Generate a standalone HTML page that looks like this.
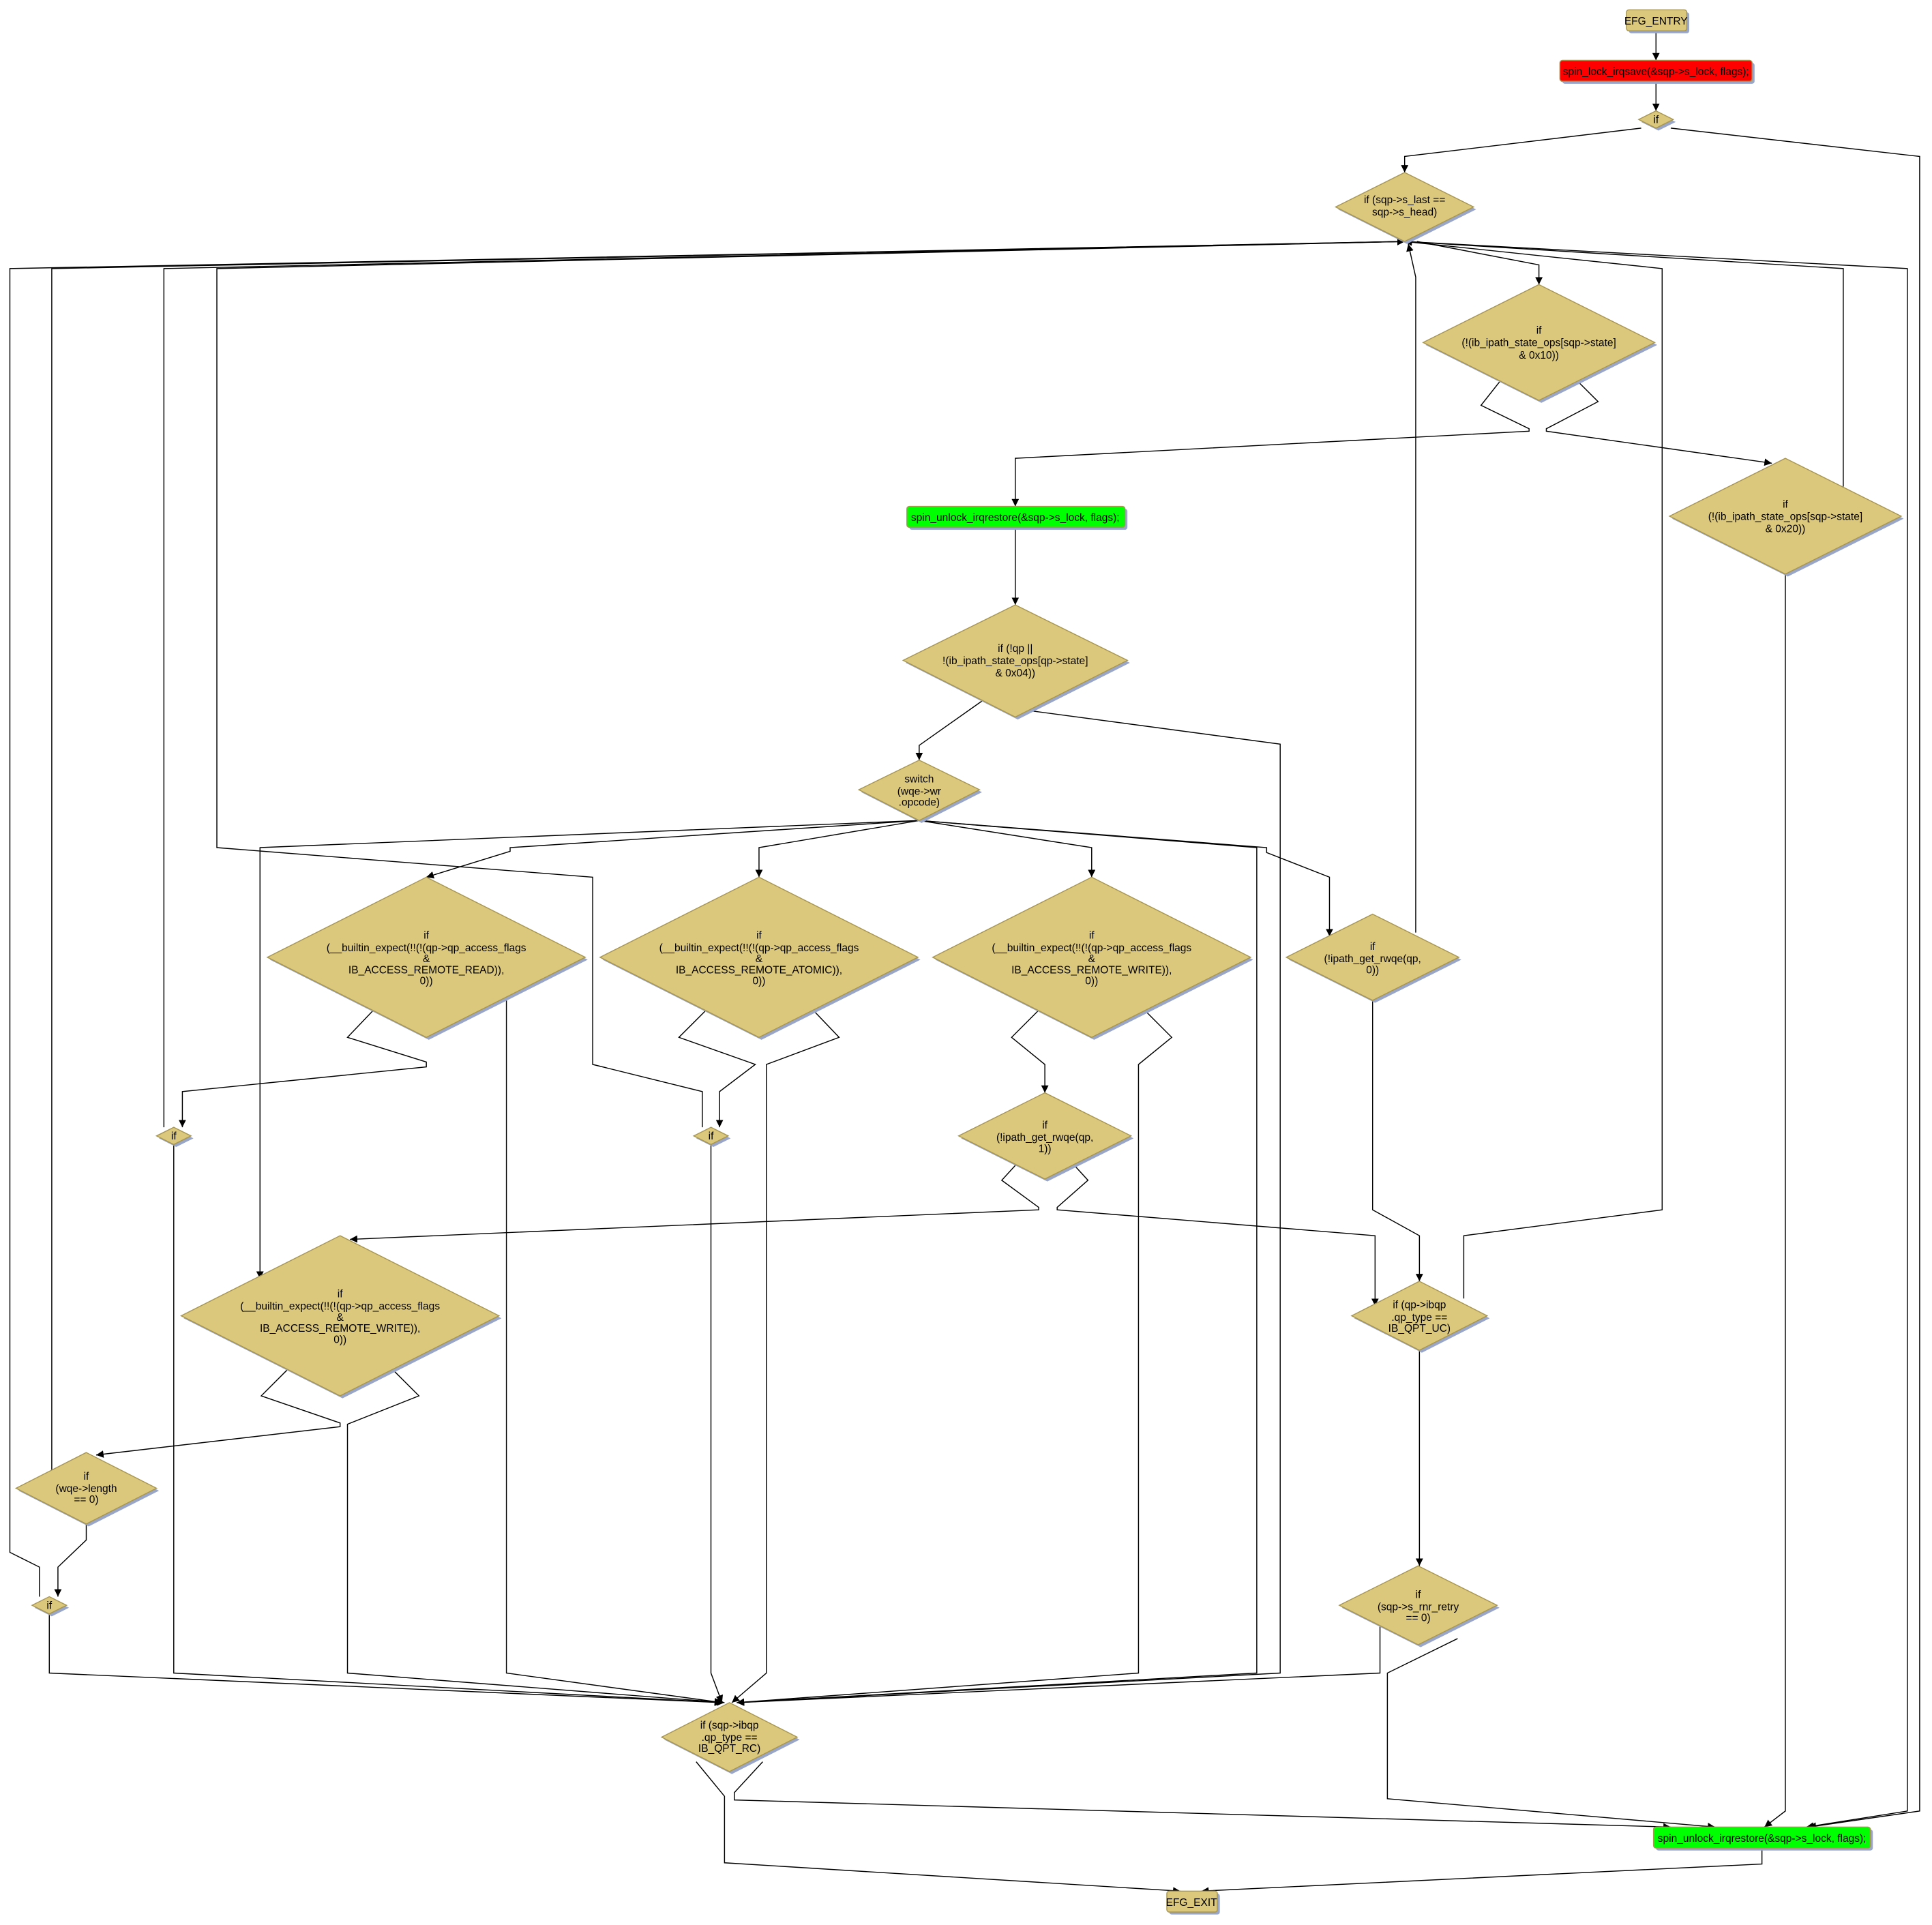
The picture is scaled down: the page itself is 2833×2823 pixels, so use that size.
<!DOCTYPE html>
<html><head><meta charset="utf-8"><style>
html,body{margin:0;padding:0;background:#fff}
svg{display:block}
text{font-family:"Liberation Sans","DejaVu Sans",sans-serif;font-size:8.6px;fill:#000;text-anchor:middle}
.e{fill:none;stroke:#000;stroke-width:0.8}
.n{fill:#dbc87d;stroke:#a89650;stroke-width:0.8}
.s{fill:#9aa6c8}
</style></head><body>
<svg width="2833" height="2823" viewBox="0 0 1568 1562.5" xmlns="http://www.w3.org/2000/svg">
<defs><marker id="a" viewBox="0 0 10 10" refX="10" refY="5" markerWidth="6" markerHeight="6" markerUnits="userSpaceOnUse" orient="auto"><path d="M0,0L10,5L0,10z" fill="#000"/></marker></defs>
<g class="e" marker-end="url(#a)">
<polyline points="1344,25 1344,49"/>
<polyline points="1344,66 1344,90"/>
<polyline points="1332,104 1140,127 1140,140"/>
<polyline points="1356,104 1558,127 1558,1470 1468,1483"/>
<polyline points="1150,196 1249,215 1249,231"/>
<polyline points="1140,196 1548,218 1548,1470 1466,1483"/>
<polyline points="1217,310 1202,329 1241,348 1241,350 824,372 824,411"/>
<polyline points="1281,310 1297,326 1255,348 1255,350 1438,376"/>
<polyline points="1496,395 1496,218 1140,196"/>
<polyline points="1449,466 1449,1470 1432,1483"/>
<polyline points="824,428 824,491"/>
<polyline points="797,569 746,605 746,617"/>
<polyline points="837,577 1039,604 1039,1358 598,1382"/>
<polyline points="746,666 211,688 211,1038"/>
<polyline points="746,666 414,688 414,691 346,712"/>
<polyline points="746,666 616,688 616,712"/>
<polyline points="746,666 886,688 886,712"/>
<polyline points="746,666 1028,688 1028,692 1079,712 1079,760"/>
<polyline points="746,666 1020,688 1020,1358 598,1382"/>
<polyline points="570,915 570,886 481,864 481,712 176,688 176,218 1140,196"/>
<polyline points="133,915 133,218 1140,196"/>
<polyline points="303,820 282,842 346,862 346,866 148,886 148,915"/>
<polyline points="411,810 411,1358 586,1382"/>
<polyline points="573,820 551,842 613,864 584,886 584,915"/>
<polyline points="660,820 681,842 622,864 622,1358 594,1382"/>
<polyline points="843,820 821,842 848,864 848,887"/>
<polyline points="929,820 951,842 924,864 924,1358 598,1382"/>
<polyline points="1149,757 1149,225 1143,198"/>
<polyline points="1114,812 1114,982 1152,1003 1152,1040"/>
<polyline points="824,946 813,958 843,980 843,982 284,1006"/>
<polyline points="872,946 883,958 858,980 858,982 1116,1003 1116,1060"/>
<polyline points="233,1112 212,1133 276,1155 276,1158 78,1181"/>
<polyline points="319,1112 340,1133 282,1156 282,1358 588,1382"/>
<polyline points="1188,1054 1188,1003 1349,982 1349,218 1140,196"/>
<polyline points="1152,1096 1152,1271"/>
<polyline points="70,1237 70,1250 47,1272 47,1296"/>
<polyline points="42,1196 42,218 1140,196"/>
<polyline points="32,1296 32,1272 8,1260 8,218 1140,196"/>
<polyline points="40,1310 40,1358 586,1382"/>
<polyline points="141,929 141,1358 586,1382"/>
<polyline points="577,929 577,1358 586,1382"/>
<polyline points="1120,1320 1120,1358 598,1382"/>
<polyline points="1183,1330 1126,1358 1126,1460 1392,1483"/>
<polyline points="619,1430 596,1455 596,1461 1356,1483"/>
<polyline points="565,1430 588,1458 588,1512 958,1535"/>
<polyline points="1430,1500 1430,1513 975,1535"/>
</g>
<rect class="s" x="1322" y="10" width="49" height="17" rx="2"/>
<rect class="n" x="1320" y="8" width="49" height="17" rx="2"/>
<text x="1344" y="20">EFG_ENTRY</text>
<rect class="s" x="1268" y="51" width="156" height="17" rx="2"/>
<rect x="1266" y="49" width="156" height="17" rx="2" fill="#ff0000" stroke="#a89650" stroke-width="0.8"/>
<text x="1344" y="61">spin_lock_irqsave(&amp;sqp-&gt;s_lock, flags);</text>
<rect class="s" x="738" y="413" width="177" height="17" rx="2"/>
<rect x="736" y="411" width="177" height="17" rx="2" fill="#00ff00" stroke="#a89650" stroke-width="0.8"/>
<text x="824" y="423">spin_unlock_irqrestore(&amp;sqp-&gt;s_lock, flags);</text>
<rect class="s" x="1344" y="1485" width="176" height="17" rx="2"/>
<rect x="1342" y="1483" width="176" height="17" rx="2" fill="#00ff00" stroke="#a89650" stroke-width="0.8"/>
<text x="1430" y="1495">spin_unlock_irqrestore(&amp;sqp-&gt;s_lock, flags);</text>
<rect class="s" x="949" y="1537" width="41" height="17" rx="2"/>
<rect class="n" x="947" y="1535" width="41" height="17" rx="2"/>
<text x="967" y="1547">EFG_EXIT</text>
<g>
<polygon class="s" points="1346,92 1360,99 1346,106 1332,99"/><polygon class="n" points="1344,90 1358,97 1344,104 1330,97"/><text x="1344" y="100">if</text>
<polygon class="s" points="1142,142 1198,170 1142,198 1086,170"/><polygon class="n" points="1140,140 1196,168 1140,196 1084,168"/><text x="1140" y="165">if (sqp-&gt;s_last ==</text><text x="1140" y="175">sqp-&gt;s_head)</text>
<polygon class="s" points="1251,233 1345,280 1251,327 1157,280"/><polygon class="n" points="1249,231 1343,278 1249,325 1155,278"/><text x="1249" y="271">if</text><text x="1249" y="281">(!(ib_ipath_state_ops[sqp-&gt;state]</text><text x="1249" y="291">&amp; 0x10))</text>
<polygon class="s" points="1451,374 1545,421 1451,468 1357,421"/><polygon class="n" points="1449,372 1543,419 1449,466 1355,419"/><text x="1449" y="412">if</text><text x="1449" y="422">(!(ib_ipath_state_ops[sqp-&gt;state]</text><text x="1449" y="432">&amp; 0x20))</text>
<polygon class="s" points="826,493 917,538 826,584 735,538"/><polygon class="n" points="824,491 915,536 824,582 733,536"/><text x="824" y="529">if (!qp ||</text><text x="824" y="539">!(ib_ipath_state_ops[qp-&gt;state]</text><text x="824" y="549">&amp; 0x04))</text>
<polygon class="s" points="748,619 797,643 748,668 699,643"/><polygon class="n" points="746,617 795,641 746,666 697,641"/><text x="746" y="635">switch</text><text x="746" y="645">(wqe-&gt;wr</text><text x="746" y="654">.opcode)</text>
<polygon class="s" points="348,714 477,779 348,844 219,779"/><polygon class="n" points="346,712 475,777 346,842 217,777"/><text x="346" y="762">if</text><text x="346" y="772">(__builtin_expect(!!(!(qp-&gt;qp_access_flags</text><text x="346" y="781">&amp;</text><text x="346" y="790">IB_ACCESS_REMOTE_READ)),</text><text x="346" y="799">0))</text>
<polygon class="s" points="618,714 747,779 618,844 489,779"/><polygon class="n" points="616,712 745,777 616,842 487,777"/><text x="616" y="762">if</text><text x="616" y="772">(__builtin_expect(!!(!(qp-&gt;qp_access_flags</text><text x="616" y="781">&amp;</text><text x="616" y="790">IB_ACCESS_REMOTE_ATOMIC)),</text><text x="616" y="799">0))</text>
<polygon class="s" points="888,714 1017,779 888,844 759,779"/><polygon class="n" points="886,712 1015,777 886,842 757,777"/><text x="886" y="762">if</text><text x="886" y="772">(__builtin_expect(!!(!(qp-&gt;qp_access_flags</text><text x="886" y="781">&amp;</text><text x="886" y="790">IB_ACCESS_REMOTE_WRITE)),</text><text x="886" y="799">0))</text>
<polygon class="s" points="1116,744 1186,779 1116,814 1046,779"/><polygon class="n" points="1114,742 1184,777 1114,812 1044,777"/><text x="1114" y="771">if</text><text x="1114" y="781">(!ipath_get_rwqe(qp,</text><text x="1114" y="790">0))</text>
<polygon class="s" points="143,917 157,924 143,931 129,924"/><polygon class="n" points="141,915 155,922 141,929 127,922"/><text x="141" y="925">if</text>
<polygon class="s" points="579,917 593,924 579,931 565,924"/><polygon class="n" points="577,915 591,922 577,929 563,922"/><text x="577" y="925">if</text>
<polygon class="s" points="850,889 920,924 850,959 780,924"/><polygon class="n" points="848,887 918,922 848,957 778,922"/><text x="848" y="916">if</text><text x="848" y="926">(!ipath_get_rwqe(qp,</text><text x="848" y="935">1))</text>
<polygon class="s" points="278,1005 407,1070 278,1135 149,1070"/><polygon class="n" points="276,1003 405,1068 276,1133 147,1068"/><text x="276" y="1053">if</text><text x="276" y="1063">(__builtin_expect(!!(!(qp-&gt;qp_access_flags</text><text x="276" y="1072">&amp;</text><text x="276" y="1081">IB_ACCESS_REMOTE_WRITE)),</text><text x="276" y="1090">0))</text>
<polygon class="s" points="1154,1042 1209,1070 1154,1098 1099,1070"/><polygon class="n" points="1152,1040 1207,1068 1152,1096 1097,1068"/><text x="1152" y="1062">if (qp-&gt;ibqp</text><text x="1152" y="1072">.qp_type ==</text><text x="1152" y="1081">IB_QPT_UC)</text>
<polygon class="s" points="72,1181 129,1210 72,1239 15,1210"/><polygon class="n" points="70,1179 127,1208 70,1237 13,1208"/><text x="70" y="1201">if</text><text x="70" y="1211">(wqe-&gt;length</text><text x="70" y="1220">== 0)</text>
<polygon class="s" points="42,1298 56,1305 42,1312 28,1305"/><polygon class="n" points="40,1296 54,1303 40,1310 26,1303"/><text x="40" y="1306">if</text>
<polygon class="s" points="1153,1273 1217,1305 1153,1337 1089,1305"/><polygon class="n" points="1151,1271 1215,1303 1151,1335 1087,1303"/><text x="1151" y="1297">if</text><text x="1151" y="1307">(sqp-&gt;s_rnr_retry</text><text x="1151" y="1316">== 0)</text>
<polygon class="s" points="594,1384 649,1412 594,1440 539,1412"/><polygon class="n" points="592,1382 647,1410 592,1438 537,1410"/><text x="592" y="1403">if (sqp-&gt;ibqp</text><text x="592" y="1413">.qp_type ==</text><text x="592" y="1422">IB_QPT_RC)</text>
</g>
</svg>
</body></html>
